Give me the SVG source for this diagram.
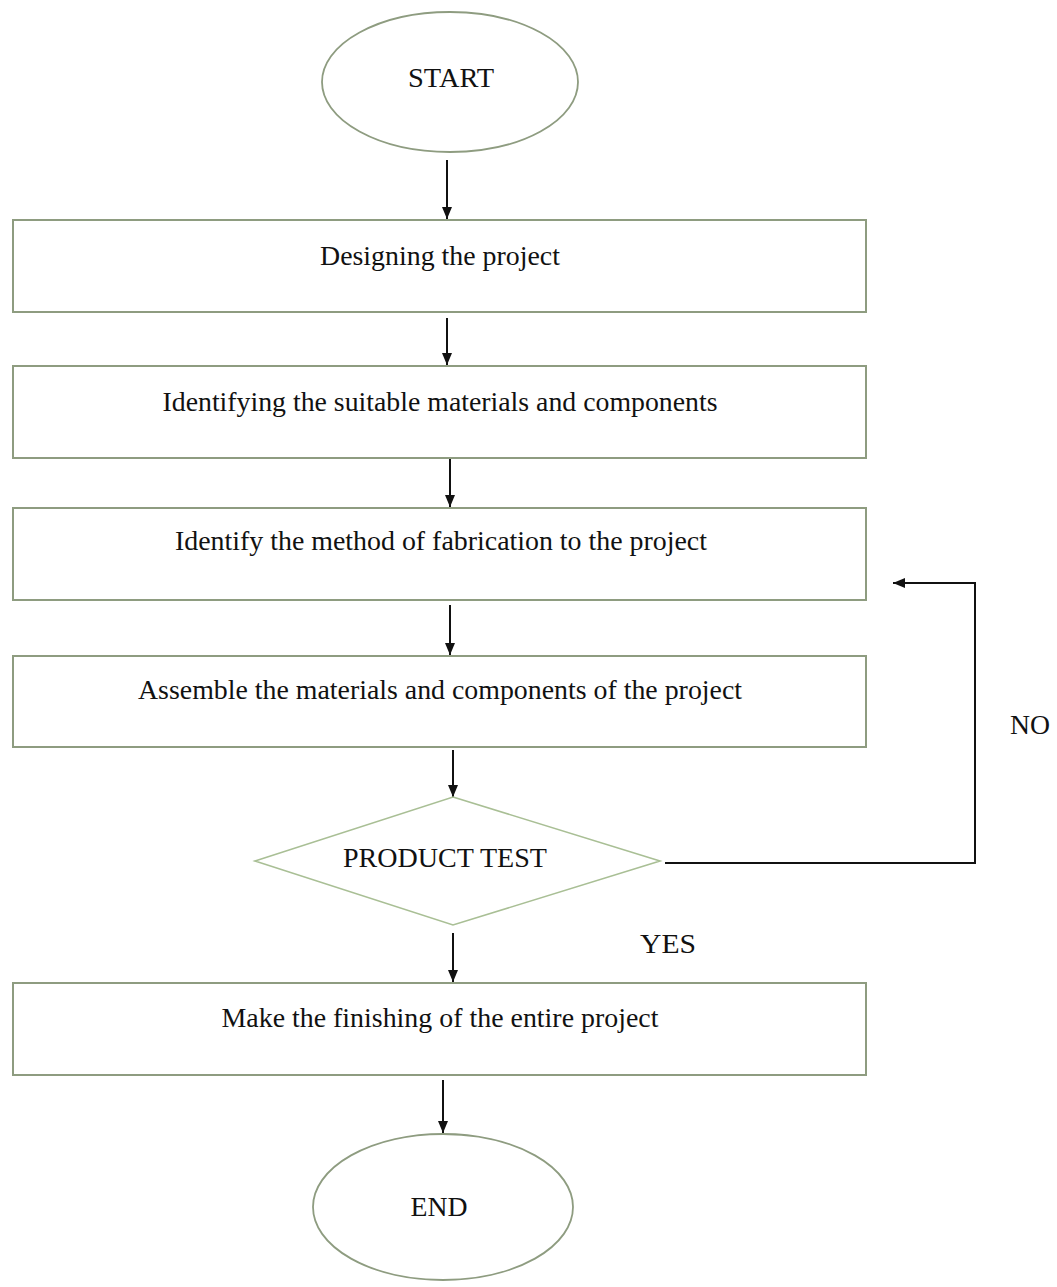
<svg xmlns="http://www.w3.org/2000/svg" width="1057" height="1287" viewBox="0 0 1057 1287">
<style>
.box{fill:#fff;stroke:#8e9c80;stroke-width:2}
.ell{fill:#fff;stroke:#8e9c80;stroke-width:1.8}
.dia{fill:#fff;stroke:#a9bf95;stroke-width:1.6}
.t{font-family:"Liberation Serif","Times New Roman",serif;font-size:27px;fill:#111;text-anchor:middle}
.c{stroke:#111;stroke-width:2;fill:none}
</style>
<defs>
<marker id="ah" viewBox="0 0 12 10" refX="12" refY="5" markerWidth="6" markerHeight="5" orient="auto" markerUnits="strokeWidth">
<path d="M0,0 L12,5 L0,10 z" fill="#111"/>
</marker>
</defs>
<rect width="1057" height="1287" fill="#fff"/>
<g id="connectors">
<line class="c" x1="447" y1="160" x2="447" y2="219" marker-end="url(#ah)"/>
<line class="c" x1="447" y1="318" x2="447" y2="365" marker-end="url(#ah)"/>
<line class="c" x1="450" y1="452" x2="450" y2="507" marker-end="url(#ah)"/>
<line class="c" x1="450" y1="605" x2="450" y2="655" marker-end="url(#ah)"/>
<line class="c" x1="453" y1="750" x2="453" y2="797" marker-end="url(#ah)"/>
<line class="c" x1="453" y1="933" x2="453" y2="982" marker-end="url(#ah)"/>
<line class="c" x1="443" y1="1080" x2="443" y2="1133" marker-end="url(#ah)"/>
<polyline class="c" points="665,863 975,863 975,583 893,583" marker-end="url(#ah)"/>
</g>
<g id="start">
<ellipse class="ell" cx="450" cy="82" rx="128" ry="70"/>
<text class="t" x="451" y="87" textLength="86" lengthAdjust="spacingAndGlyphs">START</text>
</g>
<g id="design">
<rect class="box" x="13" y="220" width="853" height="92"/>
<text class="t" x="440" y="265" textLength="240" lengthAdjust="spacingAndGlyphs">Designing the project</text>
</g>
<g id="identify-materials">
<rect class="box" x="13" y="366" width="853" height="92"/>
<text class="t" x="440" y="411" textLength="555" lengthAdjust="spacingAndGlyphs">Identifying the suitable materials and components</text>
</g>
<g id="identify-method">
<rect class="box" x="13" y="508" width="853" height="92"/>
<text class="t" x="441" y="550" textLength="532" lengthAdjust="spacingAndGlyphs">Identify the method of fabrication to the project</text>
</g>
<g id="assemble">
<rect class="box" x="13" y="656" width="853" height="91"/>
<text class="t" x="440" y="699" textLength="604" lengthAdjust="spacingAndGlyphs">Assemble the materials and components of the project</text>
</g>
<g id="product-test">
<polygon class="dia" points="453,797 660,861 453,925 255,861"/>
<text class="t" x="445" y="867" textLength="204" lengthAdjust="spacingAndGlyphs">PRODUCT TEST</text>
</g>
<g id="finishing">
<rect class="box" x="13" y="983" width="853" height="92"/>
<text class="t" x="440" y="1027" textLength="437" lengthAdjust="spacingAndGlyphs">Make the finishing of the entire project</text>
</g>
<g id="end">
<ellipse class="ell" cx="443" cy="1207" rx="130" ry="73"/>
<text class="t" x="439" y="1216" textLength="57" lengthAdjust="spacingAndGlyphs">END</text>
</g>
<g id="labels">
<text class="t" x="668" y="953" textLength="56" lengthAdjust="spacingAndGlyphs">YES</text>
<text class="t" x="1030" y="734" textLength="40" lengthAdjust="spacingAndGlyphs">NO</text>
</g>
</svg>
